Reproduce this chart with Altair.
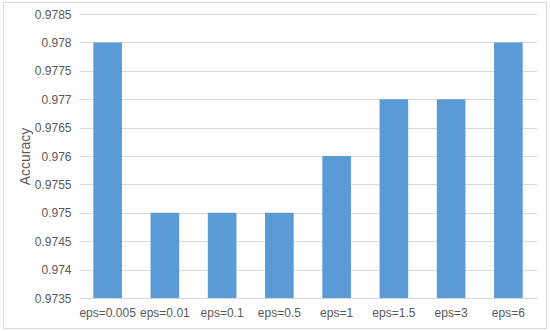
import altair as alt
import pandas as pd

categories = ["eps=0.005", "eps=0.01", "eps=0.1", "eps=0.5", "eps=1", "eps=1.5", "eps=3", "eps=6"]
accuracy = [0.978, 0.975, 0.975, 0.975, 0.976, 0.977, 0.977, 0.978]
y_ticks = [0.9735, 0.974, 0.9745, 0.975, 0.9755, 0.976, 0.9765, 0.977, 0.9775, 0.978, 0.9785]

df = pd.DataFrame({"eps": categories, "acc": accuracy})

FONT = "Liberation Sans"
GRAY = "#595959"

W, H = 458, 284

bars = alt.Chart(df).mark_bar(color="#5B9BD5", clip=True).encode(
    x=alt.X("eps:N", sort=categories, title=None,
            scale=alt.Scale(paddingInner=0.5, paddingOuter=0.25),
            axis=alt.Axis(labelAngle=0, labelFont=FONT, labelFontSize=12, labelColor=GRAY,
                          ticks=False, domain=True, domainColor="#d9d9d9", labelPadding=9,
                          grid=False)),
    y=alt.Y("acc:Q", title="Accuracy",
            scale=alt.Scale(domain=[0.9735, 0.9785], nice=False, zero=False),
            axis=alt.Axis(values=y_ticks, format="~g", labelFont=FONT, labelFontSize=12,
                          labelColor=GRAY, ticks=False, domain=False, labelPadding=8,
                          gridColor="#d9d9d9", gridWidth=1,
                          titleFont=FONT, titleFontSize=14, titleFontWeight="normal",
                          titleColor=GRAY, titlePadding=2)),
    y2=alt.datum(0.9735),
)

border = alt.Chart(df).mark_rect(fill=None, stroke="#d9d9d9", strokeWidth=1, clip=False).encode(
    x=alt.value(-75.5), x2=alt.value(W + 9.5), y=alt.value(-11.5), y2=alt.value(H + 30.5)
)

chart = alt.layer(border, bars).properties(
    width=W, height=H,
    autosize=alt.AutoSizeParams(type="none"),
    padding={"left": 79, "top": 14, "right": 13, "bottom": 33},
    background="white",
).configure_view(stroke=None)

chart.save("out.html", embed_options={"renderer": "svg", "actions": False})
